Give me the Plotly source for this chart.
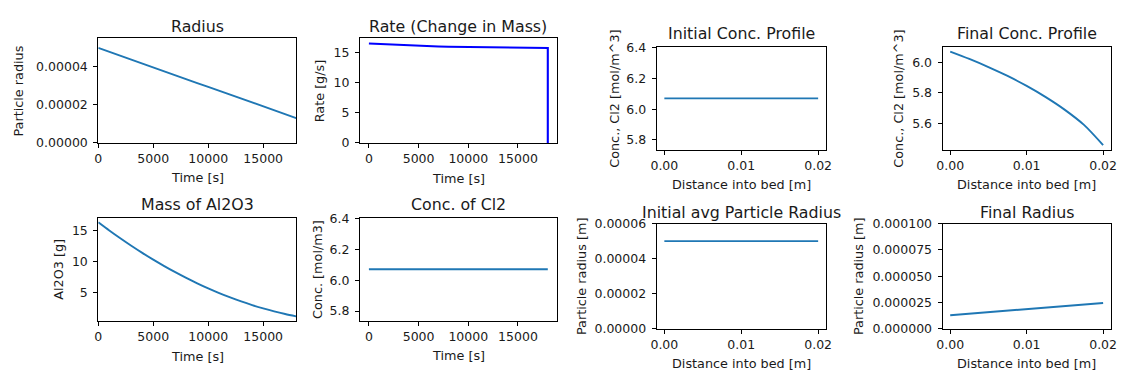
import plotly.graph_objects as go

# ---- data -------------------------------------------------------------
time_s = [0, 1000, 2000, 3000, 4000, 5000, 6000, 7000, 8000, 9000, 10000,
          11000, 12000, 13000, 14000, 15000, 16000, 17000, 18000]
particle_radius = [5.00e-5, 4.79e-5, 4.59e-5, 4.38e-5, 4.18e-5, 3.97e-5,
                   3.77e-5, 3.56e-5, 3.36e-5, 3.15e-5, 2.95e-5, 2.74e-5,
                   2.54e-5, 2.33e-5, 2.13e-5, 1.92e-5, 1.72e-5, 1.51e-5,
                   1.31e-5]
mass_al2o3 = [16.3, 14.98, 13.72, 12.51, 11.36, 10.27, 9.23, 8.25, 7.32, 6.45,
              5.63, 4.87, 4.17, 3.52, 2.93, 2.40, 1.92, 1.50, 1.12]

rate_time = [0, 1000, 2000, 3000, 4000, 5000, 6000, 7000, 8000, 10000,
             12500, 15000, 17500, 18000, 18000]
rate_gs = [16.55, 16.46, 16.37, 16.29, 16.22, 16.15, 16.09, 16.04, 16.0,
           15.95, 15.9, 15.86, 15.81, 15.8, 0.0]

cl2_time = [0, 18000]
cl2_conc = [6.07, 6.07]

distance_m = [0.0, 0.0025, 0.005, 0.0075, 0.01, 0.0125, 0.015, 0.0175, 0.02]
initial_conc = [6.07, 6.07, 6.07, 6.07, 6.07, 6.07, 6.07, 6.07, 6.07]
final_conc = [6.07, 6.022, 5.969, 5.911, 5.846, 5.773, 5.690, 5.592, 5.46]
initial_radius = [5.0e-5, 5.0e-5, 5.0e-5, 5.0e-5, 5.0e-5, 5.0e-5, 5.0e-5, 5.0e-5, 5.0e-5]
final_radius = [1.31e-5, 1.45e-5, 1.59e-5, 1.74e-5, 1.88e-5, 2.03e-5, 2.17e-5, 2.32e-5, 2.47e-5]

# ---- figure geometry (pixels) -----------------------------------------
W, H = 1121, 377
FONT = "DejaVu Sans"
TXT = "#1a1a1a"
MPL_BLUE = "#1f77b4"
TICK_SIZE = 12.5
LABEL_SIZE = 12.8
TITLE_SIZE = 15.8

def px_x(v):
    return v / W

def px_y(v):
    return 1 - v / H

# (left, right, top, bottom) of each axes box
boxes = [
    (93.3, 293.3, 31.7, 140.5),    # Radius
    (357.8, 556.7, 31.7, 140.5),   # Rate
    (657.7, 828.7, 40.5, 147.7),   # Initial conc profile
    (946.7, 1116.7, 40.5, 147.7),  # Final conc profile
    (93.3, 293.3, 218.3, 326.0),   # Mass
    (357.8, 556.7, 218.3, 326.0),  # Conc of Cl2
    (657.7, 828.7, 224.5, 334.3),  # Initial radius
    (946.7, 1116.7, 224.5, 334.3), # Final radius
]

panels = [
    dict(x=time_s, y=particle_radius, color=MPL_BLUE, width=1.9, shape="linear",
         xr=[0, 18000], yr=[0, 5.5e-5], xd=5000, yd=2e-5, xf="d", yf=".5f",
         title="Radius", xl="Time [s]", yl="Particle radius",
         tx=193.3, ty=19, xly=177, ylx=13),
    dict(x=rate_time, y=rate_gs, color="#0000ff", width=2.1, shape="linear",
         xr=[-900, 18900], yr=[0, 17.38], xd=5000, yd=5, xf="d", yf="d",
         title="Rate (Change in Mass)", xl="Time [s]", yl="Rate [g/s]",
         tx=457, ty=19.5, xly=178, ylx=317),
    dict(x=distance_m, y=initial_conc, color=MPL_BLUE, width=1.9, shape="linear",
         xr=[-0.001, 0.021], yr=[5.736, 6.404], xd=0.01, yd=0.2, xf=".2f", yf=".1f",
         title="Initial Conc. Profile", xl="Distance into bed [m]",
         yl="Conc., Cl2 [mol/m^3]", tx=743, ty=27, xly=184, ylx=615),
    dict(x=distance_m, y=final_conc, color=MPL_BLUE, width=1.9, shape="spline",
         xr=[-0.001, 0.021], yr=[5.4295, 6.1005], xd=0.01, yd=0.2, xf=".2f", yf=".1f",
         title="Final Conc. Profile", xl="Distance into bed [m]",
         yl="Conc., Cl2 [mol/m^3]", tx=1032, ty=27, xly=184, ylx=902),
    dict(x=time_s, y=mass_al2o3, color=MPL_BLUE, width=1.9, shape="spline",
         xr=[0, 18000], yr=[0.36, 17.06], xd=5000, yd=5, xf="d", yf="d",
         title="Mass of Al2O3", xl="Time [s]", yl="Al2O3 [g]",
         tx=193.3, ty=205, xly=362.5, ylx=53),
    dict(x=cl2_time, y=cl2_conc, color=MPL_BLUE, width=1.9, shape="linear",
         xr=[-900, 18900], yr=[5.736, 6.404], xd=5000, yd=0.2, xf="d", yf=".1f",
         title="Conc. of Cl2", xl="Time [s]", yl="Conc. [mol/m3]",
         tx=457, ty=205, xly=362, ylx=315),
    dict(x=distance_m, y=initial_radius, color=MPL_BLUE, width=1.9, shape="linear",
         xr=[-0.001, 0.021], yr=[0, 6e-5], xd=0.01, yd=2e-5, xf=".2f", yf=".5f",
         title="Initial avg Particle Radius", xl="Distance into bed [m]",
         yl="Particle radius [m]", tx=743, ty=212.5, xly=370, ylx=582),
    dict(x=distance_m, y=final_radius, color=MPL_BLUE, width=1.9, shape="linear",
         xr=[-0.001, 0.021], yr=[0, 1e-4], xd=0.01, yd=2.5e-5, xf=".2f", yf=".6f",
         title="Final Radius", xl="Distance into bed [m]",
         yl="Particle radius [m]", tx=1032, ty=212.5, xly=370, ylx=862),
]

fig = go.Figure()
layout = {}
annotations = []

for i, (p, (l, r, t, b)) in enumerate(zip(panels, boxes), start=1):
    sx = "" if i == 1 else str(i)
    fig.add_trace(go.Scatter(
        x=p["x"], y=p["y"], mode="lines",
        line=dict(color=p["color"], width=p["width"], shape=p["shape"],
                  smoothing=0.8),
        xaxis="x" + sx, yaxis="y" + sx, showlegend=False, hoverinfo="skip",
    ))
    common = dict(
        showline=True, linecolor="#000000", linewidth=1, mirror=True,
        showgrid=False, zeroline=False, ticks="outside", ticklen=4,
        tickwidth=1, tickcolor="#000000",
        tickfont=dict(family=FONT, size=TICK_SIZE, color=TXT),
    )
    layout["xaxis" + sx] = dict(
        common, domain=[px_x(l), px_x(r)], anchor="y" + sx,
        range=p["xr"], dtick=p["xd"], tick0=0, tickformat=p["xf"],
        ticklabelstandoff=0,
    )
    layout["yaxis" + sx] = dict(
        common, domain=[px_y(b), px_y(t)], anchor="x" + sx,
        range=p["yr"], dtick=p["yd"], tick0=0, tickformat=p["yf"],
        ticklabelstandoff=3,
    )
    annotations.append(dict(
        text=p["title"], x=px_x(p["tx"]), y=px_y(p["ty"]), xref="paper",
        yref="paper", xanchor="center", yanchor="middle", showarrow=False,
        font=dict(family=FONT, size=TITLE_SIZE, color=TXT),
    ))
    annotations.append(dict(
        text=p["xl"], x=px_x((l + r) / 2), y=px_y(p["xly"]), xref="paper",
        yref="paper", xanchor="center", yanchor="middle", showarrow=False,
        font=dict(family=FONT, size=LABEL_SIZE, color=TXT),
    ))
    annotations.append(dict(
        text=p["yl"], x=px_x(p["ylx"]), y=px_y((t + b) / 2), xref="paper",
        yref="paper", xanchor="center", yanchor="middle", showarrow=False,
        textangle=-90, font=dict(family=FONT, size=LABEL_SIZE, color=TXT),
    ))

fig.update_layout(
    width=W, height=H,
    margin=dict(l=0, r=0, t=0, b=0),
    paper_bgcolor="white", plot_bgcolor="white",
    font=dict(family=FONT, size=TICK_SIZE, color=TXT),
    annotations=annotations,
    **layout,
)

fig.write_html("out.html", config={"displayModeBar": False})
